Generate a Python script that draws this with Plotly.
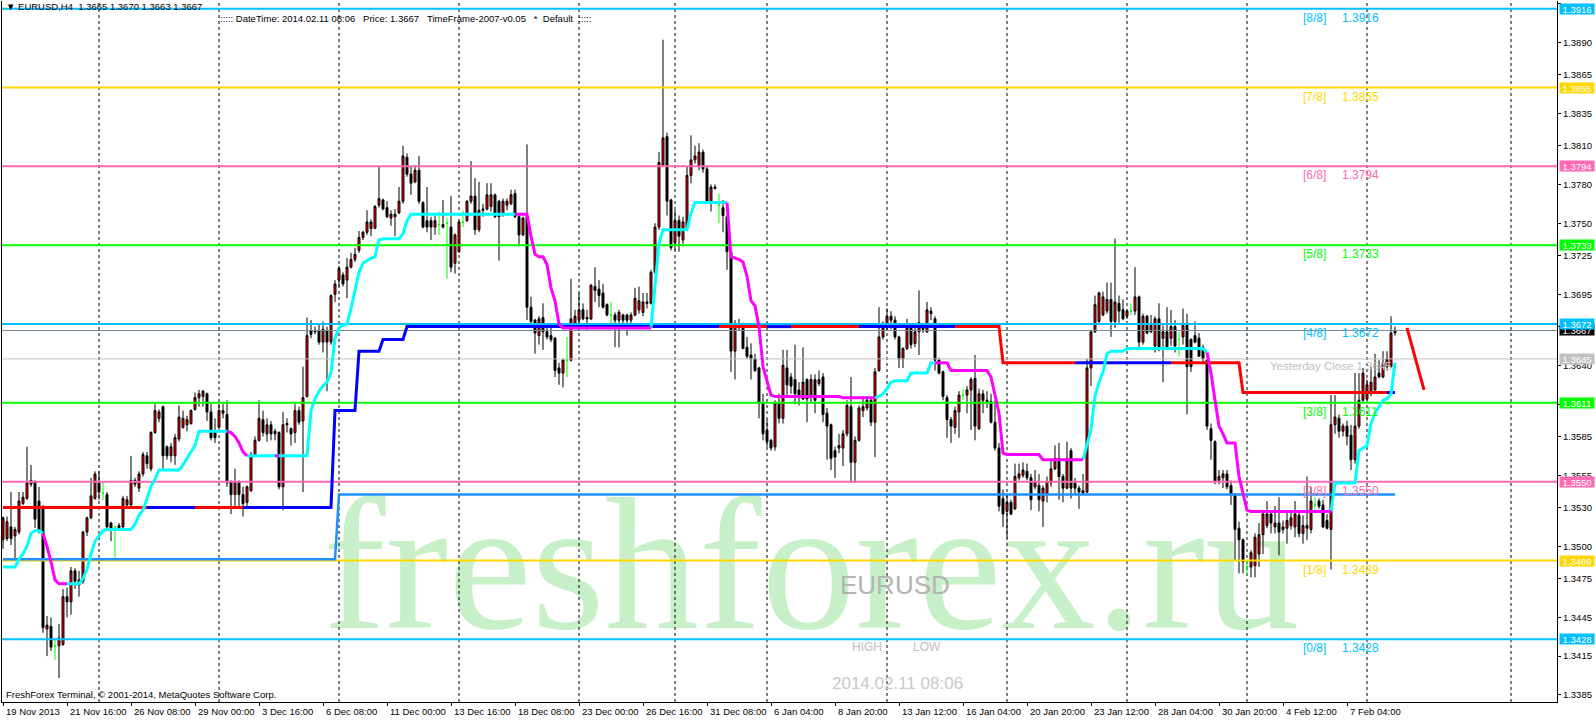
import plotly.graph_objects as go

# ------------------------------------------------------------------ data
# prices are stored as pips above 1.3000 (e.g. 667 -> 1.3667)
bar_open = [
    505, 506, 515, 508, 511, 533, 537, 548, 550, 535,
    530, 436, 438, 423, 423, 424, 461, 457, 481, 470,
    473, 511, 522, 537, 549, 541, 540, 518, 515, 516,
    515, 532, 532, 548, 545, 556, 570, 560, 588, 599,
    608, 577, 570, 570, 583, 592, 594, 595, 606, 615,
    616, 618, 604, 589, 592, 603, 602, 550, 540, 550,
    540, 534, 543, 571, 582, 598, 587, 594, 587, 588,
    546, 594, 591, 588, 605, 597, 616, 667, 667, 667,
    658, 667, 658, 695, 706, 710, 706, 716, 722, 729,
    739, 743, 746, 746, 764, 768, 762, 754, 755, 758,
    767, 801, 788, 782, 791, 766, 752, 752, 747, 749,
    749, 750, 747, 719, 728, 751, 752, 767, 771, 745,
    760, 761, 763, 772, 767, 757, 764, 765, 773, 755,
    741, 756, 685, 675, 663, 677, 666, 663, 661, 638,
    634, 644, 644, 672, 675, 683, 677, 676, 701, 699,
    696, 687, 679, 679, 675, 679, 679, 675, 679, 683,
    681, 688, 688, 712, 747, 795, 817, 768, 735, 752,
    737, 746, 787, 799, 794, 805, 792, 767, 778, 764,
    762, 755, 728, 651, 671, 671, 654, 648, 645, 638,
    611, 590, 582, 577, 611, 599, 638, 631, 629, 621,
    614, 629, 616, 629, 626, 631, 603, 594, 574, 576,
    576, 587, 608, 565, 582, 605, 607, 613, 596, 636,
    662, 669, 678, 675, 662, 645, 653, 669, 657, 666,
    668, 666, 680, 676, 644, 635, 615, 598, 592, 604,
    617, 617, 621, 630, 591, 618, 613, 612, 596, 576,
    537, 527, 534, 529, 553, 555, 558, 553, 546, 547,
    535, 541, 549, 560, 568, 554, 545, 574, 549, 545,
    541, 542, 638, 666, 674, 679, 682, 691, 674, 688,
    683, 678, 682, 682, 693, 658, 678, 666, 655, 676,
    661, 666, 661, 670, 660, 662, 671, 660, 663, 661,
    654, 644, 591, 581, 551, 553, 556, 547, 540, 514,
    505, 484, 484, 485, 494, 509, 516, 525, 515, 518,
    513, 514, 516, 515, 524, 510, 516, 513, 532, 535,
    532, 520, 513, 594, 599, 589, 593, 586, 567, 593,
    613, 614, 618, 621, 634, 631, 639, 639, 665,
]
bar_high = [
    523, 523, 542, 515, 542, 542, 577, 563, 551, 546,
    532, 446, 445, 429, 440, 467, 468, 484, 483, 481,
    512, 523, 553, 558, 558, 550, 542, 519, 516, 518,
    539, 539, 570, 553, 558, 573, 573, 589, 610, 606,
    609, 578, 580, 587, 609, 605, 601, 606, 619, 621,
    621, 619, 610, 599, 610, 610, 613, 551, 560, 551,
    546, 547, 573, 585, 613, 605, 599, 597, 591, 589,
    604, 599, 592, 610, 608, 639, 677, 675, 670, 672,
    674, 670, 695, 706, 717, 712, 723, 727, 731, 744,
    744, 760, 753, 764, 794, 769, 767, 760, 761, 778,
    810, 804, 794, 795, 802, 767, 778, 755, 756, 759,
    768, 754, 771, 742, 752, 760, 768, 798, 785, 782,
    765, 781, 781, 773, 768, 769, 769, 776, 776, 756,
    755, 811, 693, 676, 678, 688, 672, 670, 662, 642,
    645, 662, 707, 683, 696, 688, 683, 703, 716, 706,
    703, 688, 689, 681, 683, 680, 680, 681, 700, 701,
    696, 696, 714, 750, 805, 892, 820, 769, 760, 756,
    755, 794, 818, 810, 812, 807, 794, 780, 780, 773,
    768, 756, 729, 675, 676, 673, 662, 657, 649, 639,
    618, 598, 583, 613, 618, 652, 652, 634, 656, 627,
    654, 630, 633, 633, 636, 634, 607, 595, 577, 587,
    590, 613, 631, 585, 609, 616, 616, 614, 638, 685,
    674, 684, 682, 678, 663, 654, 676, 670, 670, 698,
    671, 689, 685, 678, 646, 636, 617, 600, 608, 620,
    622, 624, 631, 648, 622, 621, 620, 618, 613, 580,
    544, 541, 536, 564, 564, 565, 564, 556, 559, 556,
    547, 554, 567, 578, 580, 556, 581, 576, 553, 547,
    556, 645, 667, 694, 697, 697, 704, 704, 738, 694,
    691, 683, 688, 716, 694, 680, 679, 679, 678, 688,
    671, 685, 683, 675, 666, 684, 680, 661, 674, 665,
    656, 645, 595, 582, 559, 559, 559, 551, 541, 519,
    506, 489, 497, 510, 518, 528, 535, 528, 531, 538,
    520, 528, 528, 535, 527, 524, 554, 546, 538, 537,
    536, 525, 617, 617, 602, 595, 597, 594, 634, 634,
    638, 629, 639, 649, 644, 651, 651, 678, 670,
]
bar_low = [
    498, 504, 501, 491, 509, 532, 536, 546, 514, 510,
    433, 415, 419, 412, 398, 423, 445, 447, 467, 461,
    471, 508, 521, 536, 536, 536, 513, 504, 490, 512,
    513, 530, 529, 546, 542, 554, 560, 558, 587, 596,
    560, 567, 565, 563, 581, 591, 589, 594, 605, 608,
    608, 597, 582, 580, 591, 599, 546, 525, 530, 530,
    523, 530, 542, 570, 581, 585, 581, 582, 582, 544,
    528, 588, 578, 580, 594, 542, 615, 661, 664, 656,
    650, 620, 656, 689, 701, 701, 692, 715, 720, 727,
    737, 741, 740, 746, 762, 760, 754, 748, 740, 757,
    765, 786, 772, 781, 765, 746, 743, 737, 741, 741,
    746, 707, 712, 711, 727, 747, 751, 765, 741, 743,
    755, 760, 759, 754, 721, 755, 760, 764, 754, 732,
    740, 675, 672, 649, 656, 652, 660, 658, 631, 625,
    623, 631, 643, 671, 667, 675, 667, 675, 689, 685,
    684, 678, 670, 654, 654, 672, 663, 672, 678, 680,
    678, 684, 687, 711, 745, 794, 756, 729, 729, 728,
    734, 745, 781, 796, 791, 789, 765, 759, 776, 750,
    743, 714, 635, 629, 667, 653, 645, 629, 635, 599,
    582, 577, 574, 574, 595, 595, 617, 618, 610, 609,
    613, 596, 611, 603, 624, 596, 567, 559, 553, 572,
    562, 585, 549, 549, 581, 600, 605, 593, 569, 635,
    660, 667, 668, 660, 638, 638, 652, 653, 654, 648,
    665, 665, 675, 636, 633, 613, 584, 580, 587, 584,
    613, 603, 590, 582, 590, 603, 607, 595, 574, 527,
    515, 506, 524, 528, 551, 553, 551, 528, 544, 527,
    515, 534, 546, 559, 536, 534, 544, 537, 541, 529,
    540, 541, 624, 665, 673, 678, 680, 662, 669, 673,
    675, 676, 679, 679, 654, 656, 664, 665, 650, 651,
    627, 652, 655, 650, 647, 656, 602, 635, 657, 647,
    643, 590, 567, 548, 548, 545, 544, 532, 489, 479,
    479, 478, 476, 476, 484, 494, 514, 510, 510, 493,
    510, 502, 513, 507, 507, 502, 505, 510, 529, 529,
    514, 513, 482, 587, 584, 585, 578, 559, 564, 591,
    612, 613, 616, 620, 630, 630, 636, 638, 663,
]
bar_close = [
    522, 519, 506, 513, 535, 538, 549, 551, 521, 512,
    437, 439, 422, 423, 429, 461, 457, 481, 473, 474,
    511, 522, 539, 556, 542, 541, 515, 514, 515, 513,
    537, 536, 551, 551, 556, 571, 564, 588, 605, 604,
    570, 570, 577, 584, 600, 599, 598, 605, 615, 618,
    620, 604, 584, 584, 605, 605, 549, 540, 550, 540,
    533, 546, 571, 582, 599, 588, 594, 587, 589, 546,
    594, 595, 587, 605, 596, 615, 663, 664, 666, 658,
    668, 658, 694, 703, 715, 703, 716, 722, 726, 739,
    743, 751, 751, 763, 769, 761, 755, 757, 757, 767,
    802, 788, 781, 791, 767, 747, 747, 747, 752, 749,
    747, 750, 716, 741, 751, 751, 767, 771, 745, 760,
    761, 772, 772, 755, 755, 767, 767, 772, 755, 741,
    754, 685, 674, 665, 676, 666, 662, 660, 636, 634,
    644, 644, 676, 678, 683, 676, 676, 702, 698, 694,
    685, 679, 679, 675, 681, 675, 675, 679, 692, 690,
    689, 689, 712, 747, 797, 816, 767, 731, 752, 740,
    751, 787, 799, 802, 805, 792, 767, 778, 777, 764,
    756, 728, 651, 671, 670, 653, 647, 645, 636, 611,
    587, 581, 576, 611, 599, 640, 625, 624, 618, 617,
    627, 614, 629, 613, 629, 602, 593, 568, 569, 578,
    587, 609, 565, 582, 607, 608, 613, 596, 635, 662,
    669, 678, 675, 662, 645, 653, 669, 656, 666, 673,
    669, 683, 682, 644, 634, 616, 598, 593, 605, 617,
    617, 621, 629, 593, 618, 613, 612, 596, 576, 531,
    525, 534, 525, 554, 556, 559, 553, 536, 550, 536,
    545, 550, 560, 568, 554, 545, 568, 545, 545, 542,
    543, 638, 666, 687, 696, 693, 691, 674, 689, 682,
    676, 682, 682, 693, 658, 678, 665, 671, 676, 654,
    666, 654, 670, 655, 660, 671, 639, 639, 658, 647,
    645, 593, 582, 550, 554, 556, 546, 540, 513, 505,
    488, 484, 495, 507, 509, 525, 525, 518, 518, 511,
    515, 520, 522, 525, 510, 516, 514, 535, 532, 531,
    515, 514, 594, 600, 589, 593, 585, 567, 593, 613,
    634, 625, 627, 631, 631, 642, 645, 665, 667,
]

# trailing-stop indicator (cyan when below price, magenta when above)
trail = [
    484, 484, 484, 484, 490, 494, 500, 510, 512, 512,
    510, 500, 488, 474, 471, 471, 471, 471, 471, 471,
    475, 482, 494, 504, 508, 512, 513, 513, 513, 513,
    513, 513, 513, 517, 524, 528, 537, 546, 552, 559,
    559, 559, 559, 559, 559, 563, 568, 574, 578, 589,
    589, 589, 589, 589, 589, 589, 589, 588, 585, 580,
    573, 570, 570, 570, 570, 570, 570, 570, 570, 570,
    570, 570, 570, 570, 570, 570, 570, 605, 614, 620,
    624, 627, 634, 661, 669, 671, 672, 684, 697, 712,
    719, 721, 723, 724, 737, 738, 738, 738, 738, 738,
    742, 752, 757, 757, 757, 757, 757, 757, 757, 757,
    757, 757, 757, 757, 757, 757, 757, 757, 757, 757,
    757, 757, 757, 757, 757, 757, 757, 757, 757, 757,
    757, 757, 740, 726, 724, 724, 718, 700, 690, 672,
    669, 669, 669, 669, 669, 669, 669, 669, 669, 669,
    669, 669, 669, 669, 669, 669, 669, 669, 669, 669,
    669, 669, 669, 700, 734, 745, 745, 745, 745, 745,
    745, 745, 758, 766, 766, 766, 766, 766, 766, 766,
    766, 766, 724, 723, 722, 720, 709, 690, 686, 670,
    639, 628, 617, 616, 616, 616, 616, 616, 616, 616,
    616, 616, 616, 616, 616, 616, 616, 616, 616, 616,
    615, 615, 615, 615, 615, 615, 615, 615, 615, 616,
    618, 622, 627, 628, 628, 628, 628, 634, 634, 634,
    634, 634, 642, 642, 642, 642, 642, 636, 636, 636,
    636, 636, 636, 636, 636, 636, 636, 631, 618, 603,
    572, 571, 571, 571, 571, 571, 571, 571, 571, 571,
    567, 567, 567, 567, 567, 567, 567, 567, 567, 567,
    567, 578, 590, 616, 627, 635, 649, 651, 651, 651,
    651, 653, 653, 653, 653, 653, 653, 653, 653, 653,
    653, 653, 653, 653, 653, 653, 653, 653, 653, 653,
    653, 650, 634, 613, 593, 587, 580, 580, 580, 554,
    541, 528, 527, 527, 527, 527, 527, 527, 527, 527,
    527, 527, 527, 527, 527, 527, 527, 527, 527, 527,
    527, 527, 527, 549, 549, 549, 549, 549, 549, 574,
    576, 578, 595, 603, 608, 613, 614, 618, 642,
]
trail_down_segments = [(10, 16), (56, 61), (68, 69), (128, 162), (181, 218),
                       (233, 270), (301, 332)]

# daily pivot step line: (first bar, level in pips)
pivot_steps = [(0, 530), (83, 605), (89, 651), (95, 660), (101, 670),
               (250, 642), (310, 619)]
pivot_red_segments = [(0, 36), (48, 60), (179, 191), (197, 214), (238, 268),
                      (292, 346)]

# support step line
support_steps = [(0, 490), (84, 540)]

# projection line to the right of the last bar
proj_bars = [351, 355.25]
proj_vals = [669, 621]

murrey_levels = [1.3916, 1.3855, 1.3794, 1.3733, 1.3672, 1.3611, 1.3550, 1.3489, 1.3428]
murrey_names = ["[8/8]", "[7/8]", "[6/8]", "[5/8]", "[4/8]", "[3/8]", "[2/8]", "[1/8]", "[0/8]"]
yesterday_close = 1.3645

y_ticks = [1.3920, 1.3890, 1.3865, 1.3835, 1.3810, 1.3780, 1.3750, 1.3725, 1.3695,
           1.3670, 1.3640, 1.3610, 1.3585, 1.3555, 1.3530, 1.3500, 1.3475, 1.3445,
           1.3415, 1.3385]

x_tick_bars = [0, 16, 32, 48, 64, 80, 96, 112, 128, 144, 160, 176, 192, 208, 224,
               240, 256, 272, 288, 304, 320, 336]
x_tick_labels = ["19 Nov 2013", "21 Nov 16:00", "26 Nov 08:00", "29 Nov 00:00",
                 "3 Dec 16:00", "6 Dec 08:00", "11 Dec 00:00", "13 Dec 16:00",
                 "18 Dec 08:00", "23 Dec 00:00", "26 Dec 16:00", "31 Dec 08:00",
                 "6 Jan 04:00", "8 Jan 20:00", "13 Jan 12:00", "16 Jan 04:00",
                 "20 Jan 20:00", "23 Jan 12:00", "28 Jan 04:00", "30 Jan 20:00",
                 "4 Feb 12:00", "7 Feb 04:00"]

# period separators (bar positions)
separator_bars = [24, 54, 84, 114, 144, 168, 191, 221, 251, 281, 311, 341, 377]

# ------------------------------------------------------------------ styles
MURREY_COLORS = ["#00BFFF", "#FFD700", "#FF69B4", "#00FF00", "#00BFFF",
                 "#00FF00", "#FF69B4", "#FFD700", "#00BFFF"]
FONT = "Liberation Sans"
W, H = 1596, 720
PL, PR, PT, PB = 2, 1557, 1, 702
XMIN, XMAX = -0.25, 388.5
YLO, YHI = 1.33795, 1.392196


def price(v):
    return round(1.3 + v / 10000.0, 5)


def pxx(px):
    return (px - PL) / (PR - PL)


def pxy(py):
    return (PB - py) / (PB - PT)


def expand_steps(steps, n):
    out = []
    for i in range(n):
        val = None
        for b, v in steps:
            if i >= b:
                val = v
        out.append(val)
    return out


n = len(bar_close)
bars = list(range(n))
opens = [price(v) for v in bar_open]
closes = [price(v) for v in bar_close]
highs = [price(max(h, o, c)) for h, o, c in zip(bar_high, bar_open, bar_close)]
lows = [price(min(l, o, c)) for l, o, c in zip(bar_low, bar_open, bar_close)]

fig = go.Figure()

reg = [i for i in bars if bar_open[i] != bar_close[i]]
doj = [i for i in bars if bar_open[i] == bar_close[i]]

fig.add_trace(go.Candlestick(
    x=reg, open=[opens[i] for i in reg], high=[highs[i] for i in reg],
    low=[lows[i] for i in reg], close=[closes[i] for i in reg],
    increasing=dict(line=dict(color="black", width=1), fillcolor="#FF0000"),
    decreasing=dict(line=dict(color="black", width=1), fillcolor="#000000"),
    whiskerwidth=0, hoverinfo="skip", showlegend=False))
fig.add_trace(go.Candlestick(
    x=doj, open=[opens[i] for i in doj], high=[highs[i] for i in doj],
    low=[lows[i] for i in doj], close=[closes[i] for i in doj],
    increasing=dict(line=dict(color="#00FF00", width=1), fillcolor="#00FF00"),
    decreasing=dict(line=dict(color="#00FF00", width=1), fillcolor="#00FF00"),
    whiskerwidth=0, hoverinfo="skip", showlegend=False))


# horizontal levels
def hline(y, color, width):
    fig.add_trace(go.Scatter(x=[XMIN, XMAX], y=[y, y], mode="lines",
                             line=dict(color=color, width=width),
                             hoverinfo="skip", showlegend=False))


hline(yesterday_close, "#C0C0C0", 1)
hline(closes[-1], "#778899", 1)
for lvl, col in zip(murrey_levels, MURREY_COLORS):
    hline(lvl, col, 2)

# support line
sup = expand_steps(support_steps, n)
fig.add_trace(go.Scatter(x=bars, y=[price(v) for v in sup], mode="lines",
                         line=dict(color="#1E90FF", width=2.5),
                         hoverinfo="skip", showlegend=False))

# pivot red/blue
piv = expand_steps(pivot_steps, n)
red_mask = [False] * n
for s, e in pivot_red_segments:
    for i in range(s, e + 1):
        red_mask[i] = True


def split(values, mask):
    on, off = [], []
    for i in range(n):
        v = price(values[i])
        on.append(v if mask[i] else None)
        edge = (i > 0 and not mask[i - 1]) or (i < n - 1 and not mask[i + 1])
        off.append(v if (not mask[i]) or edge else None)
    return on, off


piv_red, piv_blue = split(piv, red_mask)
fig.add_trace(go.Scatter(x=bars, y=piv_blue, mode="lines", line=dict(color="#0000FF", width=3),
                         hoverinfo="skip", showlegend=False))
fig.add_trace(go.Scatter(x=bars, y=piv_red, mode="lines", line=dict(color="#FF0000", width=3),
                         hoverinfo="skip", showlegend=False))

# trailing line cyan/magenta
down_mask = [False] * n
for s, e in trail_down_segments:
    for i in range(s, e + 1):
        down_mask[i] = True
tr_down, tr_up = split(trail, down_mask)
fig.add_trace(go.Scatter(x=bars, y=tr_up, mode="lines", line=dict(color="#00FFFF", width=3),
                         hoverinfo="skip", showlegend=False))
fig.add_trace(go.Scatter(x=bars, y=tr_down, mode="lines", line=dict(color="#FF00FF", width=3),
                         hoverinfo="skip", showlegend=False))

# projection
fig.add_trace(go.Scatter(x=proj_bars, y=[price(v) for v in proj_vals], mode="lines",
                         line=dict(color="#FF0000", width=3), hoverinfo="skip", showlegend=False))

# ------------------------------------------------------------------ shapes
shapes = []
shapes.append(dict(type="rect", xref="paper", yref="paper",
                   x0=pxx(411), x1=pxx(1211), y0=pxy(594), y1=pxy(494),
                   line=dict(color="rgba(0,0,0,0)", width=0), fillcolor="rgba(0,0,0,0)",
                   layer="below",
                   label=dict(text="freshforex.ru", textposition="middle center",
                              font=dict(family="Liberation Serif", size=188,
                                        color="rgb(200,240,200)"))))
for b in separator_bars:
    shapes.append(dict(type="line", xref="x", yref="paper", x0=b, x1=b, y0=0, y1=1,
                       line=dict(color="black", width=1, dash="3px,3px"), layer="below"))

# ------------------------------------------------------------------ annotations
ann = []


def text(x, y, s, size, color, xanchor="left", family=FONT, xref="paper", yref="paper",
         yshift=0, xshift=0, yanchor="middle"):
    ann.append(dict(x=x, y=y, xref=xref, yref=yref, text=s, showarrow=False,
                    xanchor=xanchor, yanchor=yanchor, xshift=xshift, yshift=yshift,
                    font=dict(family=family, size=size, color=color)))


NB = "\u00a0"
header = "\u25bc EURUSD,H4" + NB * 2 + " ".join(
    f"{v:.4f}" for v in (opens[-1], highs[-1], lows[-1], closes[-1]))
text(pxx(4), pxy(6), header, 9.5, "black")
info = (":::::" + NB + "DateTime: 2014.02.11 08:06" + NB * 3 + f"Price: {closes[-1]:.4f}" + NB * 3 +
        "TimeFrame-2007-v0.05" + NB * 3 + "*" + NB * 2 + "Default" + NB * 2 + ":::::")
text(pxx(218), pxy(19), info, 9.5, "black")
text(pxx(4), pxy(694), "FreshForex Terminal, \u00a9 2001-2014, MetaQuotes Software Corp.",
     9.5, "black")

# murrey labels
for lvl, name, col in zip(murrey_levels, murrey_names, MURREY_COLORS):
    text(pxx(1301), lvl, name, 12, col, yref="y", yshift=-9)
    text(pxx(1340), lvl, f"{lvl:.4f}", 12, col, yref="y", yshift=-9)
text(pxx(1394), yesterday_close, f"Yesterday Close {yesterday_close:.4f}", 11.5, "#C0C0C0",
     xanchor="right", yref="y", yshift=-7)

# symbol info block
text(pxx(895), pxy(585), "EURUSD", 26, "#B4B4B4", xanchor="center", family="Liberation Sans")
text(pxx(867), pxy(647), "HIGH", 12, "#C0C0C0", xanchor="center")
text(pxx(927), pxy(647), "LOW", 12, "#C0C0C0", xanchor="center")
text(pxx(897), pxy(683), "2014.02.11 08:06", 17, "#C8C8C8", xanchor="center")

# x tick labels
for b, s in zip(x_tick_bars, x_tick_labels):
    ann.append(dict(x=b, y=0, xref="x", yref="paper", text=s, showarrow=False,
                    xanchor="left", yanchor="top", xshift=1, yshift=-2,
                    font=dict(family=FONT, size=9.5, color="black")))

# right-hand price boxes
boxes = [(closes[-1], "#000000"), (yesterday_close, "#C0C0C0")] + list(zip(murrey_levels, MURREY_COLORS))
for val, col in boxes:
    ann.append(dict(x=pxx(1559), y=val, xref="paper", yref="y", text=f"{val:.4f}",
                    showarrow=False, xanchor="left", yanchor="middle", width=34, height=10,
                    bgcolor=col, borderpad=0, align="center",
                    font=dict(family=FONT, size=9.5, color="white")))

fig.update_layout(
    width=W, height=H, margin=dict(l=PL, r=W - PR, t=PT, b=H - PB),
    paper_bgcolor="white", plot_bgcolor="white", showlegend=False,
    shapes=shapes, annotations=ann,
    xaxis=dict(range=[XMIN, XMAX], showgrid=False, zeroline=False, showline=True,
               linecolor="black", linewidth=1, ticks="outside", ticklen=3, tickcolor="black",
               tickvals=x_tick_bars, showticklabels=False,
               rangeslider=dict(visible=False), fixedrange=True),
    yaxis=dict(range=[YLO, YHI], side="right", showgrid=False, zeroline=False, showline=True,
               mirror=True, linecolor="black", linewidth=1, ticks="outside", ticklen=3,
               tickcolor="black", tickvals=y_ticks, ticktext=[f"{v:.4f}" for v in y_ticks],
               tickfont=dict(family=FONT, size=9.5, color="black"), fixedrange=True),
)

fig.write_html("out.html", config={"displayModeBar": False},
               post_script="document.body.style.margin='0';document.body.style.overflow='hidden';")
